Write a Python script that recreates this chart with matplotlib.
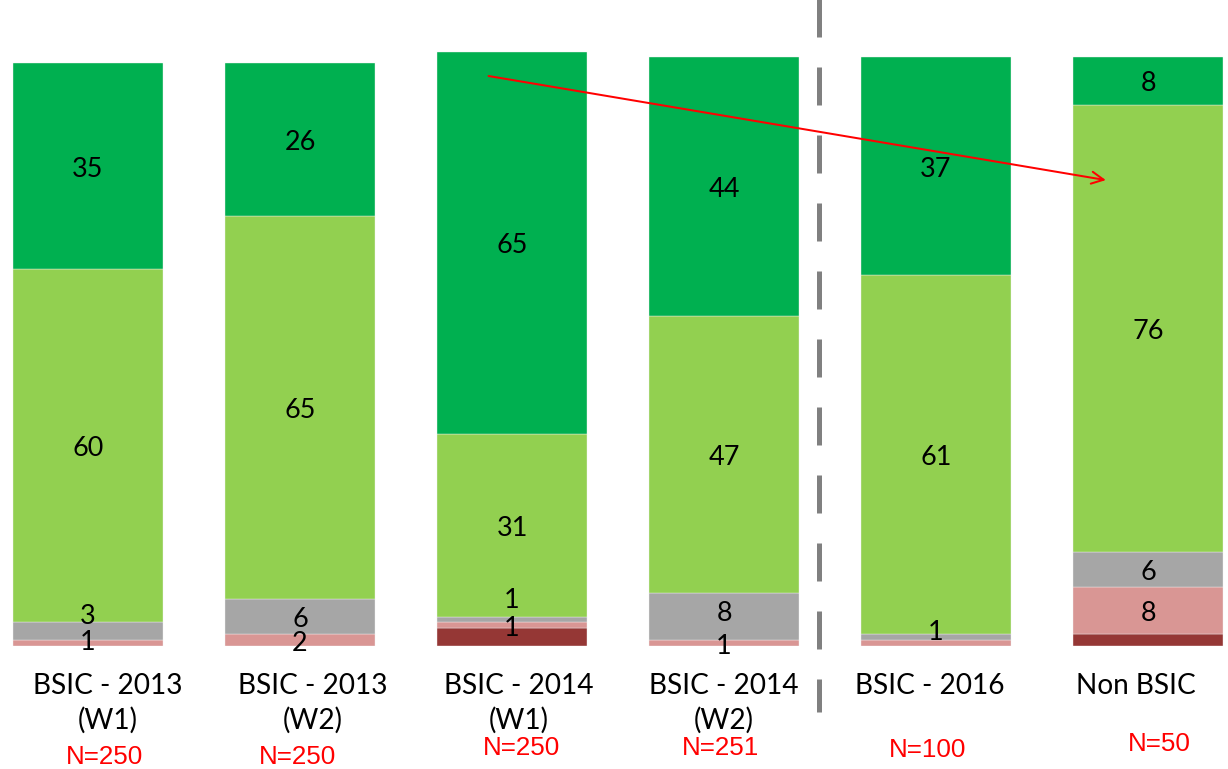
import matplotlib.pyplot as plt

# categories and share of answers per segment (bottom -> top)
categories = ['BSIC - 2013\n(W1)', 'BSIC - 2013\n(W2)', 'BSIC - 2014\n(W1)',
              'BSIC - 2014\n(W2)', 'BSIC - 2016', 'Non BSIC']
sample_sizes = ['N=250', 'N=250', 'N=250', 'N=251', 'N=100', 'N=50']
dark_red = [0, 0, 3, 0, 0, 2]
pink = [1, 2, 1, 1, 1, 8]
grey = [3, 6, 1, 8, 1, 6]
light_green = [60, 65, 31, 47, 61, 76]
dark_green = [35, 26, 65, 44, 37, 8]

series = [dark_red, pink, grey, light_green, dark_green]
colors = ['#953735', '#D99694', '#A6A6A6', '#92D050', '#00B050']

# labels that are not shown, and labels nudged up (pixels)
hidden = {(2, 0), (4, 1), (5, 0)}
nudge = {(0, 2): 18, (0, 1): 4, (2, 2): 22, (3, 2): 6, (4, 2): 8}
cat_dx = [20, 13, 7, 0, -6, -12]
n_dx = [17, -3, 9, -4, -8, 11]
n_dy = [-111, -111, -102, -102, -104, -98]

# dpi 72 so that points == pixels
fig = plt.figure(figsize=(1228 / 72, 769 / 72), dpi=72)
ax = fig.add_axes([0, 123 / 769, 1, 618 / 769])
ax.set_xlim(-0.415, 5.377)
ax.set_ylim(0, 105)
ax.axis('off')

x = range(len(categories))
bottom = [0] * len(categories)
for s, (vals, col) in enumerate(zip(series, colors)):
    ax.bar(x, vals, width=0.71, bottom=bottom, color=col,
           edgecolor='#f0f0f0', linewidth=0.4)
    for i, v in enumerate(vals):
        if v == 0 or (i, s) in hidden:
            continue
        ax.annotate(str(v), (i, bottom[i] + v / 2), xytext=(0, nudge.get((i, s), 0) - 3),
                    textcoords='offset points', ha='center', va='center',
                    fontsize=27, family='Lato', color='black')
    bottom = [b + v for b, v in zip(bottom, vals)]

for i, cat in enumerate(categories):
    for k, line in enumerate(cat.split('\n')):
        ax.annotate(line, (i, 0), xytext=(cat_dx[i], -40 - 34 * k),
                    textcoords='offset points', ha='center', va='center',
                    fontsize=28, family='Lato', annotation_clip=False)
    ax.annotate(sample_sizes[i], (i, 0), xytext=(n_dx[i], n_dy[i]),
                textcoords='offset points', ha='center', va='center',
                fontsize=26, family='Liberation Sans', color='red',
                annotation_clip=False)

# separator between the waves and the 2016 / non BSIC groups
ax.plot([3.45, 3.45], [111.5, -11.2], color='#808080', lw=5,
        linestyle=(0, (7.6, 6)), clip_on=False)

# red arrow
ax.annotate('', xy=(4.81, 79.1), xytext=(1.88, 96.9),
            arrowprops=dict(arrowstyle='->', color='red', lw=2,
                            mutation_scale=30))

fig.savefig('out.png', dpi=72)
